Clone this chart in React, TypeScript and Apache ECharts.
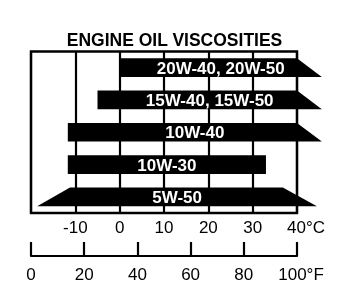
import React, { useEffect, useRef } from "react";
import * as echarts from "echarts";

const chartTitle = "ENGINE OIL VISCOSITIES";
const grades = ["20W-40, 20W-50", "15W-40, 15W-50", "10W-40", "10W-30", "5W-50"];
// temperature limits in °C (top edge / bottom edge of each band)
const lowTop = [0, -5, -11.7, -11.7, -11.2];
const lowBottom = [0, -5, -11.7, -11.7, -18.6];
const highTop = [40, 40, 40, 33, 36.8];
const highBottom = [45.6, 45.6, 45.6, 33, 44.5];
// axis scales: [min, max, step]
const celsiusScale = [-20, 40, 10];
const fahrenheitScale = [0, 100, 20];
const celsiusUnit = "°C";
const fahrenheitUnit = "°F";

const FONT = '"Liberation Sans", Arial, Helvetica, sans-serif';

export default function App() {
  const ref = useRef<HTMLDivElement>(null);
  useEffect(() => {
    if (!ref.current) return;
    const chart = echarts.init(ref.current, undefined, { renderer: "svg" });
    const data = grades.map((_, i) => [i, lowTop[i], lowBottom[i], highTop[i], highBottom[i]]);
    chart.setOption({
      animation: false,
      title: {
        text: chartTitle,
        left: "center",
        top: 26,
        textStyle: { fontFamily: FONT, fontSize: 17.5, fontWeight: "bold", color: "#000" },
      },
      grid: {
        show: true,
        left: 31,
        right: 52,
        top: 51.5,
        bottom: 89,
        borderColor: "#000",
        borderWidth: 2.4,
        backgroundColor: "transparent",
      },
      xAxis: [
        {
          type: "value",
          min: celsiusScale[0],
          max: celsiusScale[1],
          interval: celsiusScale[2],
          position: "bottom",
          axisLine: { show: false },
          axisTick: { show: false },
          splitLine: { show: true, lineStyle: { color: "#000", width: 2.2 } },
          axisLabel: {
            margin: 6,
            fontSize: 17,
            fontFamily: FONT,
            color: "#000",
            formatter: (v: number) =>
              v === celsiusScale[0] ? "" : v === celsiusScale[1] ? `{sp|}${v}${celsiusUnit}` : String(v),
            rich: { sp: { width: 18 } },
          },
        },
        {
          type: "value",
          min: fahrenheitScale[0],
          max: fahrenheitScale[1],
          interval: fahrenheitScale[2],
          position: "bottom",
          offset: 43,
          axisLine: { show: true, lineStyle: { color: "#000", width: 2.2 } },
          axisTick: { show: true, inside: true, length: 14, lineStyle: { color: "#000", width: 2.2 } },
          splitLine: { show: false },
          axisLabel: {
            margin: 10,
            fontSize: 17,
            fontFamily: FONT,
            color: "#000",
            formatter: (v: number) => (v === fahrenheitScale[1] ? `{sp|}${v}${fahrenheitUnit}` : String(v)),
            rich: { sp: { width: 8 } },
          },
        },
      ],
      yAxis: {
        type: "category",
        data: grades,
        inverse: true,
        show: false,
      },
      series: [
        {
          type: "custom",
          xAxisIndex: 0,
          yAxisIndex: 0,
          encode: { x: [1, 2, 3, 4], y: 0 },
          data,
          renderItem: (params: any, api: any) => {
            const i = api.value(0);
            const band = api.size([0, 1])[1];
            const h = band * 0.58;
            const cy = api.coord([0, i])[1];
            const y0 = cy - h / 2;
            const y1 = cy + h / 2;
            const xLT = api.coord([api.value(1), i])[0];
            const xLB = api.coord([api.value(2), i])[0];
            const xHT = api.coord([api.value(3), i])[0];
            const xHB = api.coord([api.value(4), i])[0];
            const cx = (Math.min(xLT, xLB) + Math.max(xHT, xHB)) / 2;
            return {
              type: "group",
              children: [
                {
                  type: "polygon",
                  shape: { points: [[xLT, y0], [xHT, y0], [xHB, y1], [xLB, y1]] },
                  style: { fill: "#000" },
                },
                {
                  type: "text",
                  x: cx,
                  y: cy + 0.5,
                  style: {
                    text: grades[i],
                    fill: "#fff",
                    fontFamily: FONT,
                    fontSize: 17,
                    fontWeight: "bold",
                    align: "center",
                    verticalAlign: "middle",
                  },
                },
              ],
            };
          },
        },
      ],
    });
    return () => chart.dispose();
  }, []);
  return <div ref={ref} style={{ position: "fixed", left: 0, top: 0, width: 349, height: 302 }} />;
}
